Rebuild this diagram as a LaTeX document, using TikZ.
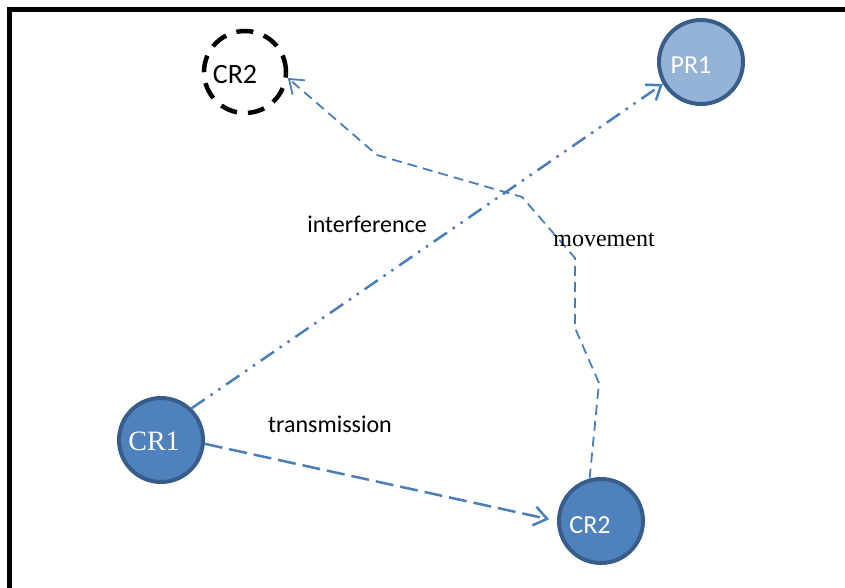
\documentclass[tikz,border=0pt]{standalone}
\usepackage{fontspec}
\setmainfont{Liberation Serif}
\newfontfamily\calfont{Carlito}
\usetikzlibrary{arrows.meta}
\definecolor{cellfill}{HTML}{4F81BD}
\definecolor{celledge}{HTML}{385D8A}
\definecolor{prfill}{HTML}{95B3D7}
\definecolor{linkblue}{HTML}{4A7EBB}
\tikzset{
    radio/.style={circle, draw=celledge, line width=4pt, fill=cellfill, minimum size=84pt, inner sep=0pt},
    ghost/.style={circle, draw=black, line width=4.5pt, dash pattern=on 17pt off 11pt, minimum size=82pt, inner sep=0pt},
    inname/.style={text=white, font=\calfont\fontsize{26}{30}\selectfont},
    tag/.style={font=\calfont\fontsize{24}{28}\selectfont},
    link/.style={draw=linkblue, line width=2.5pt, -{Straight Barb[length=13pt,width=19pt]}}
}

\begin{document}
\begin{tikzpicture}[x=1pt, y=-1pt]
    \useasboundingbox (0,0) rectangle (845,587);
    % Frame
    \draw[line width=5pt] (9.5,9) rectangle (862,592);

    % Radios
    \node[radio, label={[inname, font=\fontsize{28}{30}\selectfont, xshift=-7pt, yshift=-1pt]center:CR1}] (cra) at (161,440) {};
    \node[radio, label={[inname, xshift=-11pt, yshift=-4pt]center:CR2}] (crb) at (601,521) {};
    \node[radio, fill=prfill, label={[inname, xshift=-10pt, yshift=-3pt]center:PR1}] (pr) at (701,62) {};
    \node[ghost, label={[tag, font=\calfont\fontsize{28}{30}\selectfont, xshift=-10pt, yshift=-3pt]center:CR2}] (crold) at (245,72) {};

    % Links
    \draw[link, dash pattern=on 18pt off 7pt, shorten >=8pt] (cra.-5) -- (crb.west);
    \draw[link, dash pattern=on 16pt off 7pt on 2.5pt off 7pt on 2.5pt off 7pt] (cra.46) -- (pr.210);
    \draw[link, line width=1.8pt, dash pattern=on 10pt off 6pt]
        (crb.105) -- (599,383) -- (575,328) -- (575,258) -- (522,197) -- (377,155) -- (crold.-8);

    % Labels
    \node[tag] (intf) at (367,224) {interference};
    \node[tag] (trans) at (330,424) {transmission};
    \node[font=\fontsize{24}{28}\selectfont] (move) at (604,240) {movement};
\end{tikzpicture}
\end{document}
